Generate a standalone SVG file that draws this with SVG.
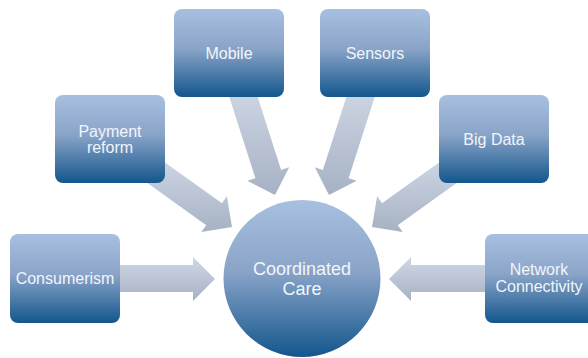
<svg xmlns="http://www.w3.org/2000/svg" width="588" height="358" viewBox="0 0 588 358">
  <defs>
    <linearGradient id="gBox" x1="0" y1="0" x2="0" y2="1">
      <stop offset="0" stop-color="#A8C0E0"/>
      <stop offset="0.45" stop-color="#8AA4C8"/>
      <stop offset="1" stop-color="#13568D"/>
    </linearGradient>
    <linearGradient id="gArrow" x1="0" y1="0" x2="0" y2="1">
      <stop offset="0" stop-color="#CFD8E6"/>
      <stop offset="1" stop-color="#A6B1C3"/>
    </linearGradient>
    <style>
      .box { fill: url(#gBox); }
      .arr { fill: url(#gArrow); }
      .lbl { font-family: "Liberation Sans", Arial, sans-serif; font-size: 16px; fill: #F2F5FA; text-anchor: middle; }
      .big { font-size: 18px; }
    </style>
  </defs>
  <rect width="588" height="358" fill="#FFFFFF"/>
  <g id="connectors">
    <polygon class="arr" points="253.45,83.87 281.12,169.93 289.21,167.33 275,195 247.33,180.79 255.42,178.19 227.75,92.13"/>
    <polygon class="arr" points="350.55,83.87 322.88,169.93 314.79,167.33 329,195 356.67,180.79 348.58,178.19 376.25,92.13"/>
    <polygon class="arr" points="156.93,156.66 221.97,203.22 226.91,196.31 232,227 201.31,232.09 206.25,225.18 141.21,178.62"/>
    <polygon class="arr" points="447.07,156.66 382.03,203.22 377.09,196.31 372,227 402.69,232.09 397.75,225.18 462.79,178.62"/>
    <polygon class="arr" points="112,265 193,265 193,257 215,279 193,301 193,292 112,292"/>
    <polygon class="arr" points="492,265 411,265 411,257 389,279 411,301 411,292 492,292"/>
  </g>
  <g id="node-mobile">
    <rect class="box" x="174" y="9" width="110" height="88" rx="8"/>
    <text class="lbl" x="229" y="58.5">Mobile</text>
  </g>
  <g id="node-sensors">
    <rect class="box" x="320" y="9" width="110" height="88" rx="8"/>
    <text class="lbl" x="375" y="58.5">Sensors</text>
  </g>
  <g id="node-payment">
    <rect class="box" x="55" y="95" width="110" height="88" rx="8"/>
    <text class="lbl" x="110" y="136.5">Payment</text>
    <text class="lbl" x="110" y="152.5">reform</text>
  </g>
  <g id="node-bigdata">
    <rect class="box" x="439" y="95" width="110" height="88" rx="8"/>
    <text class="lbl" x="494" y="144.5">Big Data</text>
  </g>
  <g id="node-consumerism">
    <rect class="box" x="10" y="234" width="110" height="89" rx="8"/>
    <text class="lbl" x="65" y="284">Consumerism</text>
  </g>
  <g id="node-network">
    <rect class="box" x="485" y="234" width="110" height="89" rx="8"/>
    <text class="lbl" x="539" y="275">Network</text>
    <text class="lbl" x="539" y="291.5">Connectivity</text>
  </g>
  <g id="node-care">
    <circle class="box" cx="302" cy="278.5" r="78.5"/>
    <text class="lbl big" x="302" y="275">Coordinated</text>
    <text class="lbl big" x="302" y="294.5">Care</text>
  </g>
</svg>
